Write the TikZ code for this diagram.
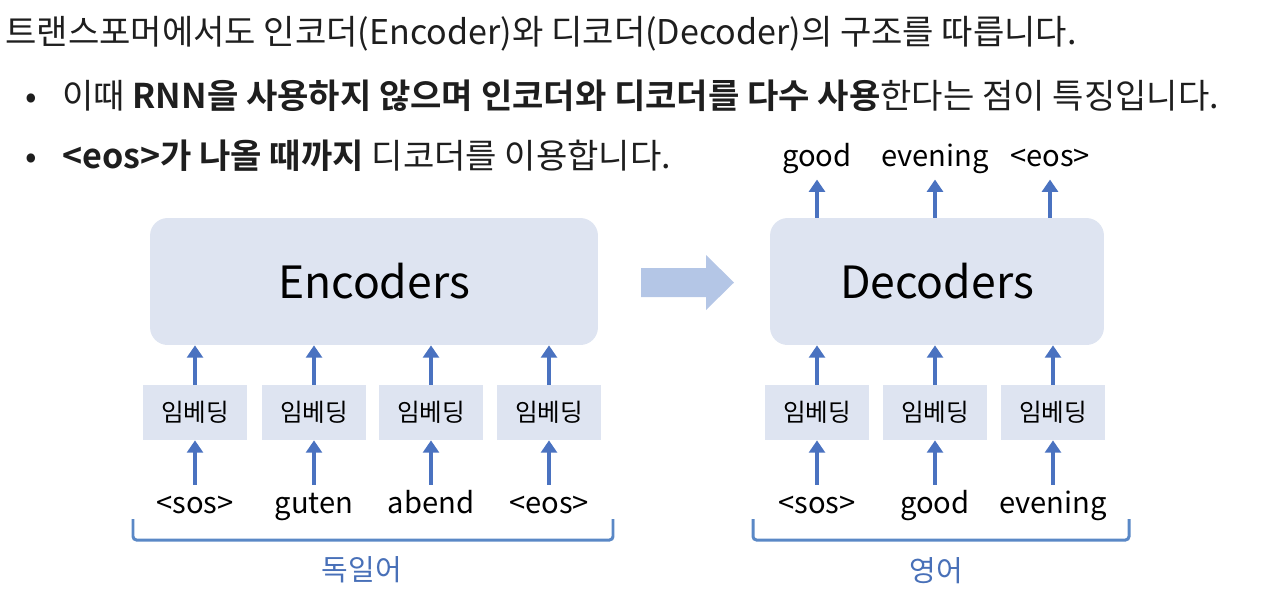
\documentclass[tikz,border=0pt]{standalone}
\usepackage{fontspec}
\setmainfont{Noto Sans CJK KR}[BoldFont={Noto Sans CJK KR Bold}]
\usetikzlibrary{arrows.meta}

\definecolor{boxfill}{HTML}{DEE4F1}
\definecolor{arrblue}{HTML}{4A72C0}
\definecolor{bigarrow}{HTML}{B4C6E6}
\definecolor{brak}{HTML}{5A88C6}
\definecolor{blulabel}{HTML}{4870B8}
\definecolor{testo}{HTML}{1E1E1E}

\begin{document}
\begin{tikzpicture}[x=0.02cm, y=-0.02cm]
	% Stili
	\tikzset{
		riga/.style={anchor=base west, inner sep=0pt, font=\fontsize{19.4}{23}\selectfont, text=testo},
		blocco/.style={rectangle, rounded corners=10pt, fill=boxfill, minimum height=2.54cm, inner sep=0pt, font=\fontsize{25.3}{30}\selectfont},
		embed/.style={rectangle, fill=boxfill, minimum width=2.08cm, minimum height=1.1cm, inner sep=0pt, font=\fontsize{14}{16}\selectfont},
		parola/.style={anchor=base, inner xsep=0pt, inner ysep=4pt, text height=12pt, text depth=3.5pt, font=\fontsize{16.6}{19}\selectfont},
		freccia/.style={draw=arrblue, line width=2.2pt, -{Triangle[length=7pt, width=9pt]}},
		parentesi/.style={draw=brak, line width=1.7pt, rounded corners=2pt},
		lingua/.style={text=blulabel, font=\fontsize{16.5}{20}\selectfont}
	}
	\useasboundingbox (0,0) rectangle (1282,600);
	
	% Testo in alto
	\node[riga] (L1) at (5,44) {트랜스포머에서도 인코더(Encoder)와 디코더(Decoder)의 구조를 따릅니다.};
	\node[riga, anchor=base] (P2) at (31,108) {•};
	\node[riga] (L2) at (62,108) {이때 \textbf{RNN을 사용하지 않으며 인코더와 디코더를 다수 사용}한다는 점이 특징입니다.};
	\node[riga, anchor=base] (P3) at (31,168) {•};
	\node[riga] (L3) at (62,168) {\textbf{<eos>가 나올 때까지} 디코더를 이용합니다.};
	
	% Blocchi principali
	\node[blocco, minimum width=8.96cm] (enc) at (374,281.5) {Encoders};
	\node[blocco, minimum width=6.68cm] (dec) at (937,281.5) {Decoders};
	
	% Freccia grande
	\fill[bigarrow] (641,268) -- (706,268) -- (706,255) -- (734,282.5) -- (706,310) -- (706,297) -- (641,297) -- cycle;
	
	% Encoder: embedding e parole
	\node[embed] (E1) at (195,412.5) {임베딩};
	\node[embed] (E2) at (314,412.5) {임베딩};
	\node[embed] (E3) at (431,412.5) {임베딩};
	\node[embed] (E4) at (549,412.5) {임베딩};
	\node[parola] (W1) at (195,513) {<sos>};
	\node[parola] (W2) at (314,513) {guten};
	\node[parola] (W3) at (431,513) {abend};
	\node[parola] (W4) at (549,513) {<eos>};
	
	% Decoder: embedding, parole, uscite
	\node[embed] (D1) at (817,412.5) {임베딩};
	\node[embed] (D2) at (935,412.5) {임베딩};
	\node[embed] (D3) at (1053,412.5) {임베딩};
	\node[parola] (V1) at (817,513) {<sos>};
	\node[parola] (V2) at (935,513) {good};
	\node[parola] (V3) at (1053,513) {evening};
	\node[parola] (U1) at (817,166) {good};
	\node[parola] (U2) at (935,166) {evening};
	\node[parola] (U3) at (1050,166) {<eos>};
	
	% Frecce encoder
	\draw[freccia] (W1) -- (E1);
	\draw[freccia] (W2) -- (E2);
	\draw[freccia] (W3) -- (E3);
	\draw[freccia] (W4) -- (E4);
	\draw[freccia] (E1) -- (E1 |- enc.south);
	\draw[freccia] (E2) -- (E2 |- enc.south);
	\draw[freccia] (E3) -- (E3 |- enc.south);
	\draw[freccia] (E4) -- (E4 |- enc.south);
	
	% Frecce decoder
	\draw[freccia] (V1) -- (D1);
	\draw[freccia] (V2) -- (D2);
	\draw[freccia] (V3) -- (D3);
	\draw[freccia] (D1) -- (D1 |- dec.south);
	\draw[freccia] (D2) -- (D2 |- dec.south);
	\draw[freccia] (D3) -- (D3 |- dec.south);
	\draw[freccia] (U1 |- dec.north) -- (U1);
	\draw[freccia] (U2 |- dec.north) -- (U2);
	\draw[freccia] (U3 |- dec.north) -- (U3);
	
	% Parentesi e lingue
	\draw[parentesi] (133,519) -- (133,540) -- (613,540) -- (613,519);
	\draw[parentesi] (753,519) -- (753,540) -- (1129,540) -- (1129,519);
	\node[lingua] (ger) at (362,570) {독일어};
	\node[lingua] (eng) at (936,571) {영어};
	
\end{tikzpicture}
\end{document}
